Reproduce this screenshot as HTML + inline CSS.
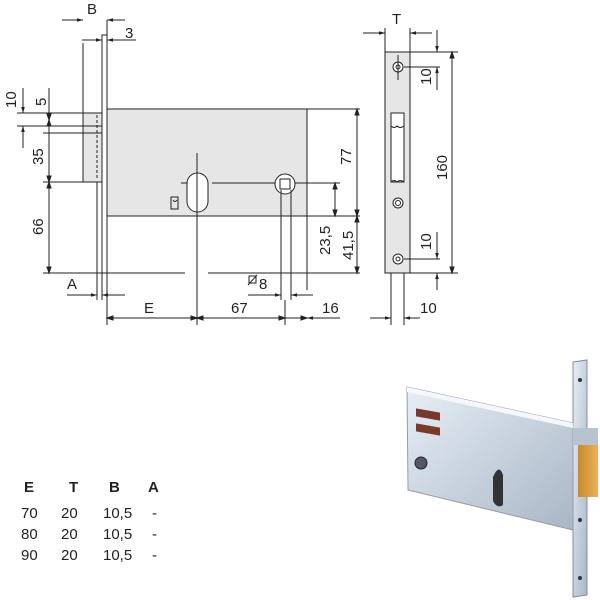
<!DOCTYPE html>
<html><head><style>
body{margin:0;background:#fff}
svg{display:block}
text{font-family:"Liberation Sans",sans-serif;fill:#222}
</style></head><body>
<svg width="600" height="600" viewBox="0 0 600 600" xmlns="http://www.w3.org/2000/svg">
<defs>
<marker id="a" viewBox="0 0 10 10" refX="10" refY="5" markerWidth="6" markerHeight="6" orient="auto-start-reverse"><path d="M0,2 L10,5 L0,8z" fill="#222"/></marker>
<linearGradient id="st" x1="0" y1="0" x2="1" y2="1"><stop offset="0" stop-color="#e8eef5"/><stop offset="0.5" stop-color="#c7d2de"/><stop offset="1" stop-color="#a9b6c4"/></linearGradient>
<linearGradient id="gd" x1="0" y1="0" x2="1" y2="0"><stop offset="0" stop-color="#c98a2a"/><stop offset="1" stop-color="#e8b25a"/></linearGradient>
</defs>
<g stroke="#222" stroke-width="1" fill="none">
<!-- body -->
<rect x="107" y="109" width="200" height="107" fill="#e6e6e6"/>
<rect x="83" y="113" width="19" height="69" fill="#e6e6e6"/>
<line x1="97" y1="115" x2="97" y2="180" stroke-dasharray="3,2"/>
<rect x="102" y="35" width="5" height="238" fill="#fff"/>
<line x1="307" y1="109" x2="360" y2="109"/>
<line x1="307" y1="216" x2="360" y2="216"/>
<line x1="307" y1="216" x2="307" y2="290"/>
<line x1="43" y1="273" x2="185" y2="273"/>
<line x1="208" y1="273" x2="360" y2="273"/>
<line x1="17" y1="113" x2="83" y2="113"/>
<line x1="17" y1="126" x2="102" y2="126"/>
<line x1="43" y1="133" x2="102" y2="133"/>
<line x1="43" y1="182" x2="83" y2="182"/>
<line x1="83" y1="43" x2="83" y2="113"/>
<line x1="97" y1="182" x2="97" y2="300"/>
<line x1="102" y1="273" x2="102" y2="300"/>
<line x1="107" y1="273" x2="107" y2="325"/>
<!-- cylinder -->
<rect x="187" y="173" width="21" height="39" rx="10.5" fill="#fff"/>
<line x1="197" y1="153" x2="197" y2="325"/>
<line x1="181" y1="183" x2="187" y2="183"/>
<line x1="212" y1="183" x2="340" y2="183"/>
<circle cx="285" cy="184" r="10" fill="#fff"/>
<rect x="280" y="179" width="10" height="10"/>
<line x1="281" y1="190" x2="281" y2="300"/>
<line x1="291" y1="190" x2="291" y2="300"/>
<path d="M171,197 h7 v12 h-7 z M173,200 q2,3 4,0"/>
<!-- dims -->
<line x1="62" y1="20" x2="83" y2="20" marker-end="url(#a)"/>
<line x1="125" y1="20" x2="107" y2="20" marker-end="url(#a)"/>
<line x1="107" y1="20" x2="107" y2="35"/>
<line x1="82" y1="40" x2="102" y2="40" marker-end="url(#a)"/>
<line x1="136" y1="40" x2="107" y2="40" marker-end="url(#a)"/>
<line x1="23" y1="88" x2="23" y2="113" marker-end="url(#a)"/>
<line x1="23" y1="148" x2="23" y2="126" marker-end="url(#a)"/>
<line x1="49" y1="88" x2="49" y2="273" />
<path d="M49,120 l-2,-6 h4z M49,120 l-2,6 h4z M49,182 l-2,-6h4z M49,182 l-2,6h4z M49,273 l-2,-6h4z" fill="#222"/>
<line x1="67" y1="295" x2="97" y2="295" marker-end="url(#a)"/>
<line x1="125" y1="295" x2="102" y2="295" marker-end="url(#a)"/>
<line x1="248" y1="295" x2="281" y2="295" marker-end="url(#a)"/>
<line x1="313" y1="295" x2="291" y2="295" marker-end="url(#a)"/>
<line x1="107" y1="318" x2="307" y2="318"/>
<path d="M107,318 l6,-2v4z M197,318 l-6,-2v4z M197,318 l6,-2v4z M285,318 l-6,-2v4z M307,318 l-6,-2v4z" fill="#222"/>
<line x1="285" y1="300" x2="285" y2="325"/>
<line x1="340" y1="318" x2="307" y2="318" marker-end="url(#a)"/>
<line x1="357" y1="109" x2="357" y2="273"/>
<path d="M357,109 l-2,6h4z M357,216 l-2,-6h4z M357,216 l-2,6h4z M357,273 l-2,-6h4z" fill="#222"/>
<line x1="335" y1="183" x2="335" y2="216"/>
<path d="M335,183 l-2,6h4z M335,216 l-2,-6h4z" fill="#222"/>
<!-- side view -->
<rect x="385" y="52" width="25" height="221" fill="#e6e6e6"/>
<rect x="391" y="113" width="13" height="69" fill="#fff"/>
<path d="M391,126 q3,3 6,0 q3,3 7,0 M391,182 q3,-3 6,0 q3,-3 7,0"/>
<circle cx="398" cy="67" r="5" fill="#fff"/><circle cx="398" cy="67" r="2"/>
<circle cx="398" cy="203" r="5" fill="#fff"/><circle cx="398" cy="203" r="2.5"/>
<circle cx="398" cy="259" r="5" fill="#fff"/><circle cx="398" cy="259" r="2"/>
<line x1="398" y1="55" x2="398" y2="80"/>
<line x1="391" y1="273" x2="391" y2="325"/>
<line x1="404" y1="273" x2="404" y2="325"/>
<line x1="385" y1="28" x2="385" y2="52"/>
<line x1="410" y1="28" x2="410" y2="52"/>
<line x1="363" y1="33" x2="385" y2="33" marker-end="url(#a)"/>
<line x1="432" y1="33" x2="410" y2="33" marker-end="url(#a)"/>
<line x1="410" y1="52" x2="458" y2="52"/>
<line x1="404" y1="67" x2="440" y2="67"/>
<line x1="404" y1="259" x2="440" y2="259"/>
<line x1="410" y1="273" x2="458" y2="273"/>
<line x1="437" y1="30" x2="437" y2="52" marker-end="url(#a)"/>
<line x1="437" y1="90" x2="437" y2="67" marker-end="url(#a)"/>
<line x1="437" y1="232" x2="437" y2="259" marker-end="url(#a)"/>
<line x1="437" y1="290" x2="437" y2="273" marker-end="url(#a)"/>
<line x1="452" y1="52" x2="452" y2="273"/>
<path d="M452,52 l-2,6h4z M452,273 l-2,-6h4z" fill="#222"/>
<line x1="370" y1="318" x2="391" y2="318" marker-end="url(#a)"/>
<line x1="420" y1="318" x2="404" y2="318" marker-end="url(#a)"/>
</g>
<g font-size="15">
<text x="87" y="14">B</text>
<text x="125" y="38">3</text>
<text x="67" y="289">A</text>
<text x="144" y="313">E</text>
<text x="231" y="313">67</text>
<text x="322" y="313">16</text>
<text x="259" y="289">8</text>
<text x="392" y="24">T</text>
<text x="420" y="313">10</text>
<text transform="translate(16,108) rotate(-90)">10</text>
<text transform="translate(46,106) rotate(-90)">5</text>
<text transform="translate(43,165) rotate(-90)">35</text>
<text transform="translate(43,235) rotate(-90)">66</text>
<text transform="translate(351,165) rotate(-90)">77</text>
<text transform="translate(330,255) rotate(-90)">23,5</text>
<text transform="translate(353,260) rotate(-90)">41,5</text>
<text transform="translate(431,85) rotate(-90)">10</text>
<text transform="translate(431,250) rotate(-90)">10</text>
<text transform="translate(447,180) rotate(-90)">160</text>
</g>
<g stroke="#222" fill="none"><rect x="249" y="276" width="7" height="7"/><line x1="248" y1="285" x2="257" y2="275"/></g>
<!-- table -->
<g font-size="15">
<text x="24" y="492" font-weight="bold">E</text><text x="69" y="492" font-weight="bold">T</text><text x="109" y="492" font-weight="bold">B</text><text x="148" y="492" font-weight="bold">A</text>
<text x="21" y="518">70</text><text x="61" y="518">20</text><text x="103" y="518">10,5</text><text x="152" y="518">-</text>
<text x="21" y="539">80</text><text x="61" y="539">20</text><text x="103" y="539">10,5</text><text x="152" y="539">-</text>
<text x="21" y="560">90</text><text x="61" y="560">20</text><text x="103" y="560">10,5</text><text x="152" y="560">-</text>
</g>
<!-- photo -->
<polygon points="573,362 587,360 587,595 573,597" fill="url(#st)" stroke="#889"/>
<polygon points="407,387 573,423 573,530 408,490" fill="url(#st)" stroke="#99a"/>
<polygon points="407,387 573,423 573,428 407,392" fill="#f5f8fb"/>
<rect x="578" y="445" width="20" height="52" fill="url(#gd)"/>
<rect x="573" y="428" width="25" height="17" fill="#b9c3cf"/>
<rect x="416" y="408" width="24" height="8" fill="#7a3a2a" transform="skewY(10) translate(0,-73)"/>
<rect x="416" y="423" width="24" height="8" fill="#7a3a2a" transform="skewY(10) translate(0,-73)"/>
<path d="M493,477 q6,-14 10,-2 v30 q-6,4 -10,-4z" fill="#333"/>
<circle cx="421" cy="463" r="6" fill="#556" stroke="#223"/>
<circle cx="580" cy="380" r="2" fill="#333"/><circle cx="580" cy="520" r="2" fill="#333"/><circle cx="580" cy="578" r="2" fill="#333"/>
</svg>
</body></html>
